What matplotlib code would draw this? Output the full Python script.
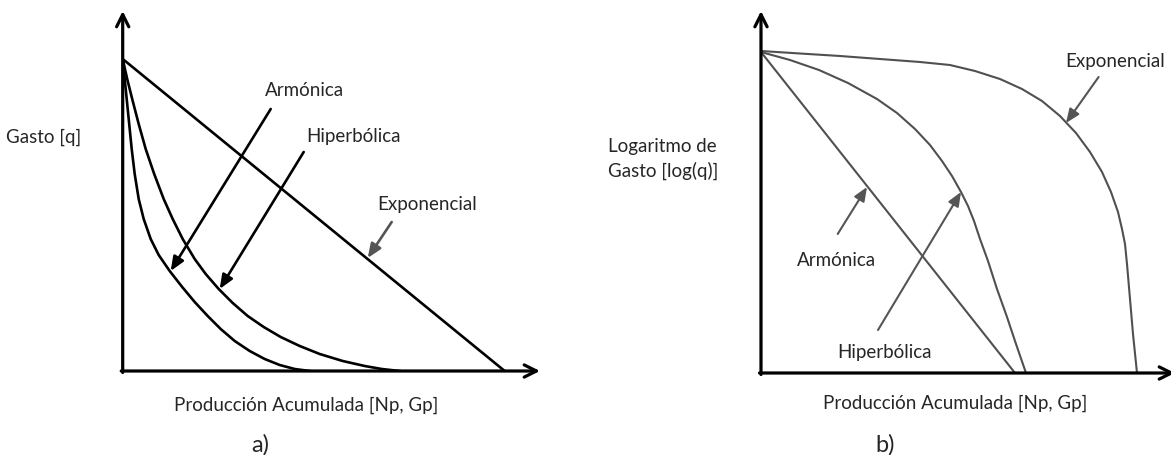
import matplotlib
matplotlib.use("Agg")
import matplotlib.pyplot as plt

plt.rcParams['font.family'] = ['Lato', 'DejaVu Sans']

W, H = 1171, 456

# Both panels use arbitrary units (rate and cumulative production, no scale given).

# --- panel a: rate vs cumulative production ---
a_exp_x = [0, 382]
a_exp_y = [312, 0]
a_hyp_x = [0, 4.5, 9.5, 16, 23, 31.5, 41, 50, 60, 72, 83, 96, 110, 125, 141, 158, 177, 197, 220, 242, 259, 277]
a_hyp_y = [312, 292, 272, 247, 222, 197, 172, 152, 132, 112, 97, 82, 68, 55, 44, 34, 25, 17, 10, 5, 2, 0]
a_arm_x = [0, 2, 4, 6.5, 9, 12, 16, 21, 28, 36, 47, 59.5, 72, 85, 98, 112, 127, 142, 157, 172, 187]
a_arm_y = [312, 292, 272, 247, 222, 197, 172, 152, 132, 116, 100, 84, 69, 55, 42, 30, 20, 12, 6, 2, 0]

# --- panel b: log(rate) vs cumulative production ---
b_exp_x = [0, 39, 79, 119, 159, 189, 214, 239, 261, 281, 299, 315, 329, 341, 350, 357, 361, 364, 366, 369, 372, 376]
b_exp_y = [322, 319.5, 317, 314, 311, 308, 302, 294, 284, 272, 257, 240, 221, 201, 181, 161, 144, 129, 109, 74, 39, 0]
b_hyp_x = [0, 29, 58, 87, 116, 136, 154, 169, 181, 191, 200, 207, 213, 219, 227, 236, 246, 255, 265]
b_hyp_y = [321, 313, 303, 290, 274, 260, 244, 228, 212, 197, 181, 167, 152, 134, 112, 84, 56, 29, 0]
b_arm_x = [0, 254]
b_arm_y = [321, 0]

# label text, label position, arrow start, arrow tip, colour
a_notes = [
    ("Armónica",    (182, 282), (148, 262), (48, 100), "black"),
    ("Hiperbólica", (231, 235), (181, 219), (97, 82), "black"),
    ("Exponencial", (304.5, 167), (269, 149), (245, 113), "#555555"),
]
b_notes = [
    ("Exponencial", (354.5, 312), (337.6, 296), (305, 250), "#555555"),
    ("Armónica",    (75.5, 114), (76.7, 139), (106, 186), "#555555"),
    ("Hiperbólica", (123.5, 21), (117, 43), (200, 181), "#555555"),
]

FS = 13.5
TXT = '#262626'


def make_axes(fig, ox, oy, xmax, ymax):
    # ox, oy: origin in pixels, one data unit per pixel
    ax = fig.add_axes([ox / W, 1 - oy / H, xmax / W, ymax / H])
    ax.set_xlim(0, xmax)
    ax.set_ylim(0, ymax)
    ax.axis('off')
    ax.patch.set_alpha(0)
    arrow = dict(arrowstyle='->', lw=2.3, color='black', mutation_scale=22,
                 shrinkA=0, shrinkB=0)
    ax.annotate('', xy=(xmax, 0), xytext=(-1.5, 0), annotation_clip=False, arrowprops=arrow)
    ax.annotate('', xy=(0, ymax), xytext=(0, -1.5), annotation_clip=False, arrowprops=arrow)
    return ax


def add_notes(ax, notes, lw):
    for text, pos, start, tip, col in notes:
        ax.text(pos[0], pos[1], text, ha='center', va='center', fontsize=FS, color=TXT)
        ax.annotate('', xy=tip, xytext=start,
                    arrowprops=dict(arrowstyle='-|>,head_length=0.6,head_width=0.25',
                                    lw=lw, color=col, mutation_scale=14,
                                    shrinkA=0, shrinkB=0))


fig = plt.figure(figsize=(W / 100, H / 100), dpi=100)

ax1 = make_axes(fig, 122.7, 372, 417.3, 360)
for xs, ys in [(a_exp_x, a_exp_y), (a_hyp_x, a_hyp_y), (a_arm_x, a_arm_y)]:
    ax1.plot(xs, ys, color='black', lw=1.9, solid_joinstyle='round')
add_notes(ax1, a_notes, 1.9)

ax2 = make_axes(fig, 761, 374, 414, 362)
for xs, ys in [(b_exp_x, b_exp_y), (b_hyp_x, b_hyp_y), (b_arm_x, b_arm_y)]:
    ax2.plot(xs, ys, color='#505050', lw=1.5, solid_joinstyle='round')
add_notes(ax2, b_notes, 1.5)

# axis titles and panel tags
fig.text(44 / W, 1 - 137 / H, "Gasto [q]", ha='center', va='center', fontsize=FS, color=TXT)
fig.text(306 / W, 1 - 405 / H, "Producción Acumulada [Np, Gp]", ha='center', va='center',
         fontsize=FS, color=TXT)
fig.text(260 / W, 1 - 452 / H, "a)", ha='center', va='baseline', fontsize=17, color=TXT)

fig.text(608 / W, 1 - 159 / H, "Logaritmo de\nGasto [log(q)]", ha='left', va='center',
         fontsize=FS, color=TXT, linespacing=1.45)
fig.text(955 / W, 1 - 403 / H, "Producción Acumulada [Np, Gp]", ha='center', va='center',
         fontsize=FS, color=TXT)
fig.text(885 / W, 1 - 452 / H, "b)", ha='center', va='baseline', fontsize=17, color=TXT)

fig.savefig("out.png", dpi=100, facecolor='white')
